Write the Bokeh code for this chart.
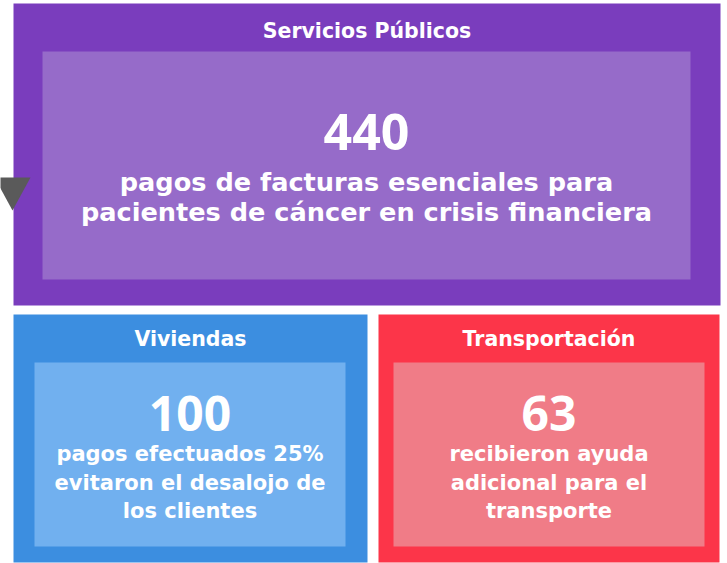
from bokeh.plotting import figure
from bokeh.models import Range1d
from bokeh.core.properties import value
from bokeh.embed import file_html
from bokeh.resources import INLINE

# ---- data ----
titles = ["Servicios Públicos", "Viviendas", "Transportación"]
numbers = ["440", "100", "63"]
descriptions = [
    ["pagos de facturas esenciales para", "pacientes de cáncer en crisis financiera"],
    ["pagos efectuados 25%", "evitaron el desalojo de", "los clientes"],
    ["recibieron ayuda", "adicional para el", "transporte"],
]

# ---- layout / style ----
W, H = 727, 563
outer_boxes = [(13, 3, 720, 305), (13, 314, 367, 562), (378, 314, 719, 562)]
inner_boxes = [(42, 51, 690, 279), (34, 362, 345, 546), (393, 362, 704, 546)]
outer_colors = ["#7a3dbd", "#3c8ee0", "#fc3549"]
inner_colors = ["#966bc9", "#71b0ef", "#f07c87"]
title_y = [30, 338, 338]
number_y = [131, 413, 413]
line_y = [[181, 211], [453, 482, 510], [453, 482, 510]]
title_size = ["20.5px", "20.5px", "20.5px"]
number_size = ["50px", "48px", "48px"]
line_size = ["25.6px", "21px", "21px"]
TEXT_FONT = value("DejaVu Sans")
NUM_FONT = value("Open Sans")

p = figure(width=W, height=H, x_range=Range1d(0, W), y_range=Range1d(H, 0),
           output_backend="svg", toolbar_location=None, min_border=0,
           background_fill_color="white", border_fill_color="white")
p.axis.visible = False
p.grid.visible = False
p.outline_line_color = None
p.styles = {"position": "absolute", "left": "0px", "top": "0px"}

for i in range(3):
    l, t, r, b = outer_boxes[i]
    p.quad(left=[l], right=[r], top=[t], bottom=[b], fill_color=outer_colors[i], line_color=None)
    l, t, r, b = inner_boxes[i]
    p.quad(left=[l], right=[r], top=[t], bottom=[b], fill_color=inner_colors[i], line_color=None)
    cx = (outer_boxes[i][0] + outer_boxes[i][2]) / 2
    icx = (inner_boxes[i][0] + inner_boxes[i][2]) / 2
    p.text(x=[cx], y=[title_y[i]], text=[titles[i]], text_color="white", text_font=TEXT_FONT,
           text_font_style="bold", text_font_size=title_size[i],
           text_align="center", text_baseline="middle")
    p.text(x=[icx], y=[number_y[i]], text=[numbers[i]], text_color="white", text_font=NUM_FONT,
           text_font_style="bold", text_font_size=number_size[i],
           text_align="center", text_baseline="middle")
    p.text(x=[icx] * len(descriptions[i]), y=line_y[i], text=descriptions[i], text_color="white",
           text_font=TEXT_FONT, text_font_style="bold", text_font_size=line_size[i],
           text_align="center", text_baseline="middle")

# decorative arrow marker on the left
p.patch(x=[-6, 30, 12], y=[177, 177, 210], fill_color="#5a5a5a", line_color=None)

open("out.html", "w").write(file_html(p, INLINE))
